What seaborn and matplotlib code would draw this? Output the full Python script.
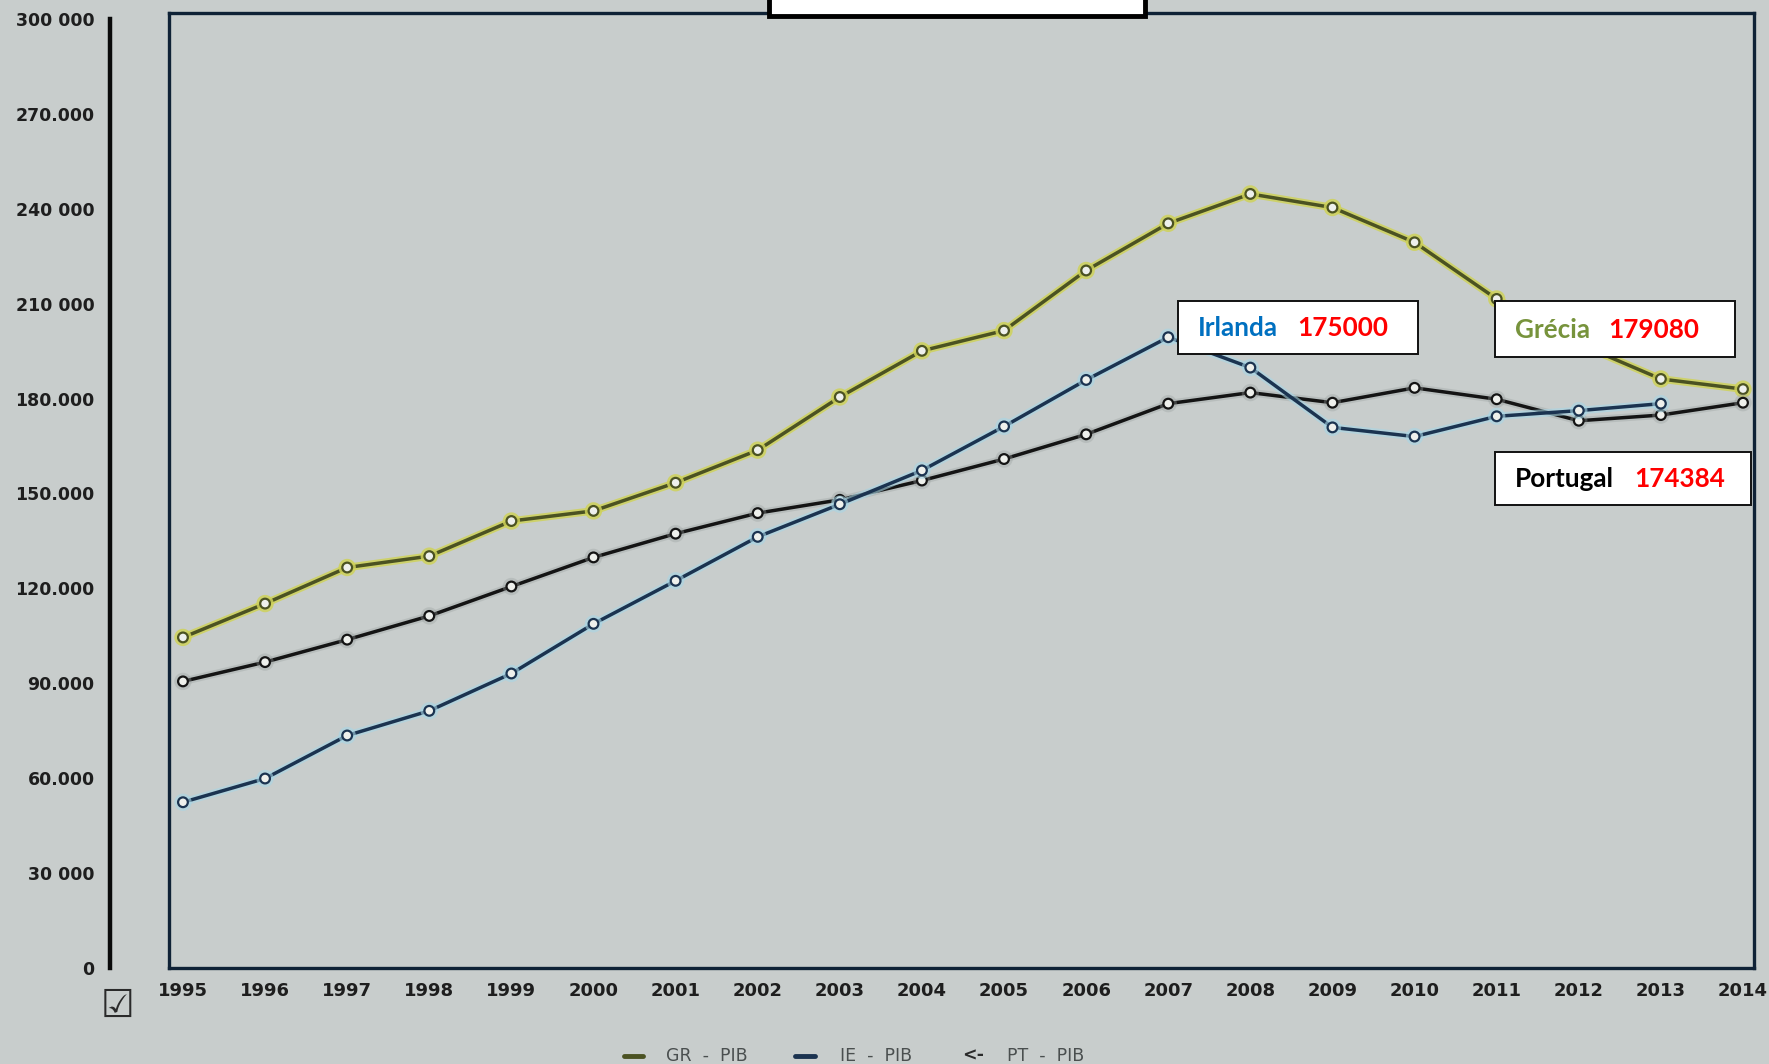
import numpy as np
import pandas as pd
import matplotlib
matplotlib.use("Agg")
import matplotlib.pyplot as plt
import matplotlib.patheffects as pe
from matplotlib.patches import Rectangle
import seaborn as sns

# GDP series (PIB), 1995-2014
years = list(range(1995, 2015))
gr_pib = [104500, 115200, 126600, 130200, 141300, 144500, 153400, 163700, 180500, 195100,
          201500, 220500, 235400, 244700, 240400, 229400, 211500, 197300, 186200, 183000]
ie_pib = [52400, 59900, 73500, 81300, 93100, 108800, 122400, 136300, 146600, 157300,
          171200, 185900, 199400, 189800, 170900, 168000, 174400, 176200, 178400, np.nan]
pt_pib = [90600, 96700, 103800, 111300, 120600, 129800, 137300, 143800, 148000, 154100,
          160900, 168700, 178400, 181900, 178700, 183400, 179800, 173000, 174800, 178700]

y_ticks = [0, 30000, 60000, 90000, 120000, 150000, 180000, 210000, 240000, 270000, 300000]
y_tick_labels = ["0", "30 000", "60.000", "90.000", "120.000", "150.000", "180.000",
                 "210 000", "240 000", "270.000", "300 000"]

callout_names = ["Irlanda", "Grécia", "Portugal"]
callout_values = ["175000", "179080", "174384"]

legend_labels = ["GR  -  PIB", "IE  -  PIB", "PT  -  PIB"]

W, H = 1769, 1064
BG = "#c8cdcc"

sns.set_theme(style="white")
plt.rcParams["font.family"] = ["DejaVu Sans"]

fig = plt.figure(figsize=(W / 100, H / 100), dpi=100)
fig.patch.set_facecolor(BG)


def fx(x):
    return x / W


def fy(y):
    return 1 - y / H


# Main plotting frame
ax_left, ax_right, ax_top, ax_bottom = 169, 1754, 13, 968
ax = fig.add_axes([fx(ax_left), fy(ax_bottom), fx(ax_right - ax_left), (ax_bottom - ax_top) / H])
ax.set_facecolor(BG)

df = pd.DataFrame({"ano": years, "GR": gr_pib, "IE": ie_pib, "PT": pt_pib})

styles = {
    "GR": dict(color="#4b5222", halo="#cfd25a", halo_alpha=0.85),
    "IE": dict(color="#1b3350", halo="#a8d6e6", halo_alpha=0.6),
    "PT": dict(color="#141414", halo="#9aa09f", halo_alpha=0.35),
}
for key in ["GR", "PT", "IE"]:
    st = styles[key]
    sub = df[["ano", key]].dropna()
    sns.lineplot(data=sub, x="ano", y=key, ax=ax, color=st["color"], linewidth=2.5,
                 marker="o", markersize=7, markerfacecolor="#eef0ec",
                 markeredgecolor=st["color"], markeredgewidth=1.6, legend=False)
    ln = ax.lines[-1]
    ln.set_path_effects([pe.Stroke(linewidth=5.5, foreground=st["halo"], alpha=st["halo_alpha"]),
                         pe.Normal()])

ax.set_xlim(1994.83, 2014.134)
ax.set_ylim(0, 300000 * (ax_bottom - ax_top) / (ax_bottom - 19))
ax.set_xticks(years)
ax.set_xticklabels([str(y) for y in years], fontsize=13, fontweight="bold", color="#1e1e1e")
ax.tick_params(axis="x", length=0, pad=10)
ax.set_yticks([])
ax.set_xlabel("")
ax.set_ylabel("")
for sp in ax.spines.values():
    sp.set_visible(True)
    sp.set_color("#0f2236")
    sp.set_linewidth(2.4)

# Separate value axis on the left
ay_top, ay_bottom = 19, 968
ay = fig.add_axes([fx(110), fy(ay_bottom), 0.002, (ay_bottom - ay_top) / H])
ay.patch.set_visible(False)
for name in ["top", "right", "bottom"]:
    ay.spines[name].set_visible(False)
ay.spines["left"].set_color("#0a0a0a")
ay.spines["left"].set_linewidth(3.2)
ay.set_ylim(0, 300000)
ay.set_yticks(y_ticks)
ay.set_yticklabels(y_tick_labels, fontsize=12.5, fontweight="bold", color="#1e1e1e")
ay.tick_params(axis="y", direction="out", length=8, width=2.6, color="#0a0a0a", pad=3)
ay.set_xticks([])

# Header box cut off at the top edge
fig.patches.append(Rectangle((fx(769), fy(16)), fx(376), 30 / H, transform=fig.transFigure,
                             facecolor="white", edgecolor="black", linewidth=3.5, zorder=5))

# Call-out boxes
boxes = [(1178, 301, 1418, 354), (1495, 301, 1735, 357), (1495, 452, 1751, 505)]
name_colors = ["#0070C0", "#77933C", "#000000"]
name_x = [1198, 1515, 1515]
value_x = [1297, 1608, 1634]
for (x0, y0, x1, y1), nm, val, nc, nx, vx in zip(boxes, callout_names, callout_values,
                                                name_colors, name_x, value_x):
    fig.patches.append(Rectangle((fx(x0), fy(y1)), fx(x1 - x0), (y1 - y0) / H,
                                 transform=fig.transFigure, facecolor="white",
                                 edgecolor="#111111", linewidth=1.4, zorder=6))
    yc = fy((y0 + y1) / 2 + 1)
    fig.text(fx(nx), yc, nm, color=nc, fontsize=18.8, fontweight="bold", family="Lato",
             ha="left", va="center", zorder=7)
    fig.text(fx(vx), yc, val, color="#FF0000", fontsize=18.8, fontweight="bold", family="Lato",
             ha="left", va="center", zorder=7)

# Checkbox glyph below the value axis
fig.text(fx(117), fy(1007), "\u2611", fontsize=27, fontweight="bold", color="#2a2a2a",
         ha="center", va="center")

# Legend strip at the bottom
leg_y = fy(1056)
fig.add_artist(plt.Line2D([fx(624), fx(643)], [leg_y, leg_y], color="#4b5222", linewidth=3.5,
                          transform=fig.transFigure))
fig.text(fx(666), leg_y, legend_labels[0], fontsize=12.5, color="#4a4f4f", ha="left", va="center")
fig.add_artist(plt.Line2D([fx(795), fx(815)], [leg_y, leg_y], color="#1b3350", linewidth=3.5,
                          transform=fig.transFigure))
fig.text(fx(840), leg_y, legend_labels[1], fontsize=12.5, color="#4a4f4f", ha="left", va="center")
fig.text(fx(962), leg_y, "<-", fontsize=12.5, fontweight="bold", color="#2a2a2a", ha="left", va="center")
fig.text(fx(1007), leg_y, legend_labels[2], fontsize=12.5, color="#4a4f4f", ha="left", va="center")

fig.savefig("out.png", dpi=100, facecolor=BG)
